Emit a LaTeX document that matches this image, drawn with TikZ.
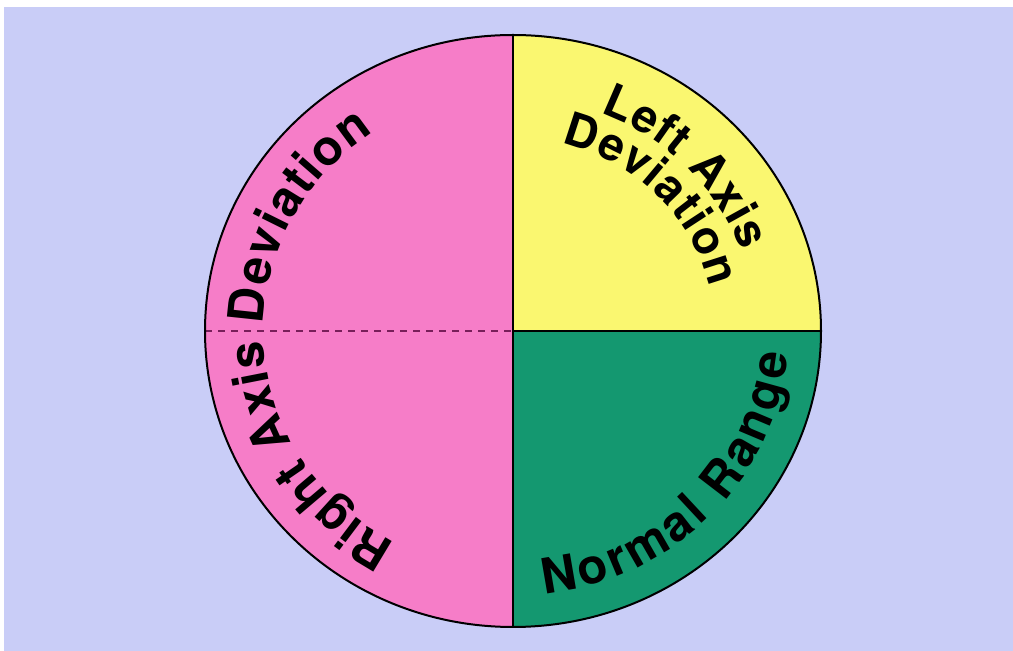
\documentclass[tikz,border=0pt]{standalone}
\usepackage{fontspec}
\setmainfont{TeX Gyre Heros}
\usetikzlibrary{decorations.text}
\definecolor{bgcol}{RGB}{201,205,247}
\definecolor{pinkq}{RGB}{246,125,200}
\definecolor{yellowq}{RGB}{250,247,112}
\definecolor{greenq}{RGB}{20,152,112}
\definecolor{dashcol}{RGB}{120,30,90}
\newcommand\lblbig{\fontsize{49}{58}\selectfont\bfseries}
\newcommand\lblsmall{\fontsize{46}{55}\selectfont\bfseries}
\tikzset{
  rim/.style={draw=black, line width=2pt},
  divider/.style={draw=black, line width=1.5pt},
  dashdiv/.style={draw=dashcol, line width=1.3pt, dash pattern=on 7pt off 6pt},
  arclabel/.style={decorate, decoration={text along path, text align=fit to path, text={#1}}}
}
\begin{document}
\begin{tikzpicture}[x=1pt,y=1pt]
\useasboundingbox (0,0) rectangle (1013,651);
\fill[white] (0,0) rectangle (1013,651);
\fill[bgcol] (4,0) rectangle (1013,644);
\coordinate (C) at (513,320);
\begin{scope}[shift={(C)}]
  % quadrants
  \fill[pinkq] (0,296) arc[start angle=90, end angle=270, x radius=308, y radius=296] -- cycle;
  \fill[yellowq] (0,0) -- (308,0) arc[start angle=0, end angle=90, x radius=308, y radius=296] -- cycle;
  \fill[greenq] (0,0) -- (0,-296) arc[start angle=-90, end angle=0, x radius=308, y radius=296] -- cycle;
  % dividers
  \coordinate (T) at (0,296);
  \coordinate (B) at (0,-296);
  \coordinate (L) at (-308,0);
  \coordinate (R) at (308,0);
  \coordinate (O) at (0,0);
  \path[dashdiv] (L) -- (O);
  \path[divider] (O) -- (R);
  \path[divider] (T) -- (B);
  \path[rim] (0,0) ellipse[x radius=308, y radius=296];
  % labels along arcs
  \path[arclabel={|\lblbig|Right Axis Deviation}]
    (242:249.5 and 239.8) arc[start angle=242, end angle=124, x radius=249.5, y radius=239.8];
  \path[arclabel={|\lblsmall|Left Axis}]
    (69:243.3 and 233.8) arc[start angle=69, end angle=20, x radius=243.3, y radius=233.8];
  \path[arclabel={|\lblsmall|Deviation}]
    (76:201.7 and 193.9) arc[start angle=76, end angle=13, x radius=201.7, y radius=193.9];
  \path[arclabel={|\lblbig|Normal Range}]
    (-83.5:275.7 and 264.9) arc[start angle=-83.5, end angle=-5, x radius=275.7, y radius=264.9];
\end{scope}
\end{tikzpicture}
\end{document}
